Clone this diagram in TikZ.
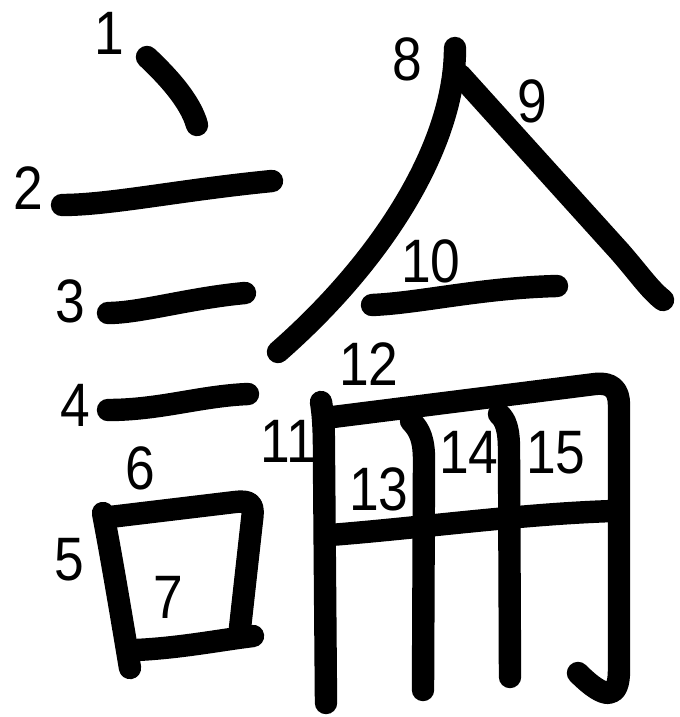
\documentclass[tikz,border=0pt]{standalone}
\usepackage{fontspec}
\setmainfont{Liberation Sans}
\newcommand\narrowdigits[1]{\scalebox{0.87}[1]{#1}}
\begin{document}
\begin{tikzpicture}[x=0.75pt,y=-0.75pt,
  stroke/.style={line width=16.8pt,line cap=round,line join=round,black},
  num/.style={inner sep=0pt,font=\fontsize{46}{46}\selectfont}]
\useasboundingbox (0,0) rectangle (680,717);
% strokes
\draw[stroke] (147,57) .. controls (166,75) and (190,100) .. (197,125);
\draw[stroke] (62,205) .. controls (110,205) and (180,190) .. (272,181);
\draw[stroke] (108,313) .. controls (140,313) and (190,298) .. (245,293);
\draw[stroke] (108,410) .. controls (160,410) and (200,396) .. (248,394);
\draw[stroke] (103,513) .. controls (112,560) and (122,620) .. (130,668);
\draw[stroke] (110,517) -- (235,502) .. controls (252,500) and (254,505) .. (252,520) -- (240,628);
\draw[stroke] (136,650) .. controls (180,648) and (220,640) .. (253,636);
\draw[stroke] (455,48) .. controls (455,145) and (383,260) .. (278,352);
\draw[stroke] (460,75) -- (620,252) .. controls (640,275) and (650,290) .. (663,300);
\draw[stroke] (372,305) .. controls (420,303) and (480,288) .. (557,286);
\draw[stroke] (321,402) .. controls (324,420) and (324,440) .. (324,460) -- (326,703);
\draw[stroke] (325,418) -- (595,384) .. controls (612,382) and (619,390) .. (619,405) -- (619,670) .. controls (619,700) and (605,700) .. (578,673);
\draw[stroke] (330,535) .. controls (420,528) and (520,514) .. (613,511);
\draw[stroke] (411,421) .. controls (420,430) and (424,440) .. (424,460) -- (423,690);
\draw[stroke] (499,414) .. controls (506,420) and (509,430) .. (509,450) -- (510,677);
% numbers
\node[num] (n1) at (109,33) {\narrowdigits{1}};
\node[num] (n2) at (28,188) {\narrowdigits{2}};
\node[num] (n3) at (70,301) {\narrowdigits{3}};
\node[num] (n4) at (75,405) {\narrowdigits{4}};
\node[num] (n5) at (69,560) {\narrowdigits{5}};
\node[num] (n6) at (140,468) {\narrowdigits{6}};
\node[num] (n7) at (168,597) {\narrowdigits{7}};
\node[num] (n8) at (407,59) {\narrowdigits{8}};
\node[num] (n9) at (532,101) {\narrowdigits{9}};
\node[num] (n10) at (431,261) {\narrowdigits{10}};
\node[num] (n11) at (288,441) {\narrowdigits{11}};
\node[num] (n12) at (369,364) {\narrowdigits{12}};
\node[num] (n13) at (379,489) {\narrowdigits{13}};
\node[num] (n14) at (469,452) {\narrowdigits{14}};
\node[num] (n15) at (556,453) {\narrowdigits{15}};
\end{tikzpicture}
\end{document}
